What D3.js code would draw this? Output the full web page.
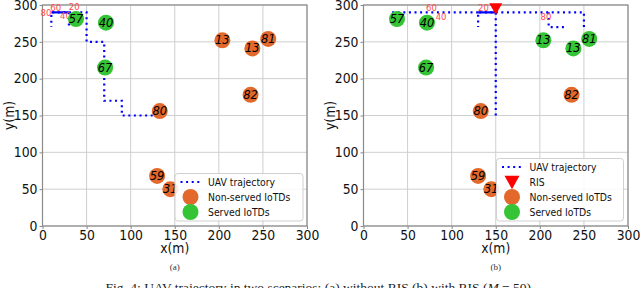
<!DOCTYPE html>
<html><head><meta charset="utf-8">
<script src="https://cdn.jsdelivr.net/npm/d3@7"></script>
<style>
html,body{margin:0;padding:0;background:#fff;}
svg{display:block;}
</style></head>
<body><svg id="c" width="640" height="288"></svg>
<script>
// ---- data ----
const deviceIds = ["57","40","67","80","13","13","81","82","59","31"];
const deviceX   = [38, 72, 71, 133, 204, 238, 256, 236, 130, 145];
const deviceY   = [281, 276, 215, 156, 252, 241, 254, 178, 68, 50];
const servedA   = [1, 1, 1, 0, 0, 0, 0, 0, 0, 0];
const servedB   = [1, 1, 1, 0, 1, 1, 1, 0, 0, 0];

// UAV trajectory (polylines, data coords)
const trajA = [
  [[125,150],[90,150],[90,170],[70,170],[70,250],[50,250],[50,290],[10,290],[10,270]],
  [[30,290],[30,270]]
];
const trajAHover = [[[10,290],[30,290]]];
const trajB = [
  [[150,150],[150,290],[130,290],[130,270]],
  [[130,290],[30,290]],
  [[150,290],[250,290],[250,270]],
  [[210,290],[210,270],[230,270]]
];
const trajBHover = [[[130,290],[150,290]]];

// time labels on trajectory
const timeTextA = ["80","60","20","40"];
const timeXA = [4, 15, 36, 26];
const timeYA = [289, 296, 297, 285];
const timeTextB = ["60","40","20","80"];
const timeXB = [77, 88, 136, 207];
const timeYB = [296, 284, 296, 284];

const risX = [150], risY = [295];

const xTicks = [0,50,100,150,200,250,300];
const yTicks = [0,50,100,150,200,250,300];

// ---- drawing ----
const svg = d3.select("#c");
const ORANGE = "#e2692b", GREEN = "#35c435", BLUE = "#0000ff";

function squeeze(sel, f){
  sel.each(function(){
    const w = this.getComputedTextLength();
    d3.select(this).attr("textLength", w*f).attr("lengthAdjust","spacingAndGlyphs");
  });
}

function panel(x0px, served, traj, hover, tT, tX, tY, withRIS, legendBox, sub){
  const x = d3.scaleLinear().domain([0,300]).range([x0px, x0px+264.5]);
  const y = d3.scaleLinear().domain([0,300]).range([226, 5]);
  const g = svg.append("g");

  // grid
  g.selectAll(".gx").data(xTicks).join("line")
    .attr("x1", d=>x(d)).attr("x2", d=>x(d)).attr("y1", y(0)).attr("y2", y(300))
    .attr("stroke", "#cfcfcf").attr("stroke-width", 1);
  g.selectAll(".gy").data(yTicks).join("line")
    .attr("y1", d=>y(d)).attr("y2", d=>y(d)).attr("x1", x(0)).attr("x2", x(300))
    .attr("stroke", "#cfcfcf").attr("stroke-width", 1);

  // axes
  const ax = g.append("g").attr("transform", `translate(0,${y(0)})`)
    .call(d3.axisBottom(x).tickValues(xTicks).tickSize(3).tickPadding(1.5));
  const ay = g.append("g").attr("transform", `translate(${x(0)},0)`)
    .call(d3.axisLeft(y).tickValues(yTicks).tickSize(3).tickPadding(2));
  [ax, ay].forEach(a => {
    a.select(".domain").remove();
    a.selectAll(".tick line").attr("stroke", "#888");
    a.selectAll("text").attr("font-family", "DejaVu Sans").attr("font-size", 13.2).attr("fill", "#111");
    squeeze(a.selectAll("text"), 0.94);
  });
  // frame
  g.append("rect").attr("x", x(0)).attr("y", y(300)).attr("width", x(300)-x(0)).attr("height", y(0)-y(300))
    .attr("fill", "none").attr("stroke", "#8a8a8a").attr("stroke-width", 1.2);

  // labels
  const xl = g.append("text").attr("x", (x(0)+x(300))/2).attr("y", 253).attr("text-anchor", "middle")
    .attr("font-family", "DejaVu Sans").attr("font-size", 13.2).attr("fill", "#111").text("x(m)");
  const yl = g.append("text").attr("transform", `translate(${x0px-29},${(y(0)+y(300))/2}) rotate(-90)`)
    .attr("text-anchor", "middle").attr("font-family", "DejaVu Sans").attr("font-size", 13.2).attr("fill", "#111").text("y(m)");
  squeeze(xl, 0.94); squeeze(yl, 0.94);

  // trajectory
  const line = d3.line().x(d=>x(d[0])).y(d=>y(d[1]));
  traj.forEach(p => g.append("path").attr("d", line(p)).attr("fill","none")
    .attr("stroke", BLUE).attr("stroke-width", 2.2).attr("stroke-dasharray", "2,3.6"));
  hover.forEach(p => g.append("path").attr("d", line(p)).attr("fill","none")
    .attr("stroke", BLUE).attr("stroke-width", 2.2));

  // time labels
  tT.forEach((t,i) => g.append("text").attr("x", x(tX[i])).attr("y", y(tY[i])+3)
    .attr("text-anchor","middle").attr("font-family","DejaVu Sans").attr("font-size", 8.5)
    .attr("fill","#ff4a4a").text(t));

  // devices
  deviceIds.forEach((id,i) => {
    g.append("circle").attr("cx", x(deviceX[i])).attr("cy", y(deviceY[i])).attr("r", 8)
      .attr("fill", served[i] ? GREEN : ORANGE);
    g.append("text").attr("x", x(deviceX[i])).attr("y", y(deviceY[i])+4)
      .attr("text-anchor","middle").attr("font-family","DejaVu Sans").attr("font-style","italic")
      .attr("font-size", 11.5).attr("fill","#000").text(id);
  });

  // RIS
  const tri = (cx, cy, s) => `M${cx-s},${cy-s*0.85} L${cx+s},${cy-s*0.85} L${cx},${cy+s*0.95} Z`;
  if (withRIS) {
    risX.forEach((v,i) => g.append("path").attr("d", tri(x(v), y(risY[i]), 6.5)).attr("fill", "#ff0000"));
  }

  // legend
  const [lx, ly, lw, lh] = legendBox;
  const L = g.append("g");
  L.append("rect").attr("x", lx).attr("y", ly).attr("width", lw).attr("height", lh).attr("rx", 3)
    .attr("fill", "rgba(255,255,255,0.85)").attr("stroke", "#d0d0d0");
  const items = withRIS ? ["UAV trajectory","RIS","Non-served IoTDs","Served IoTDs"]
                        : ["UAV trajectory","Non-served IoTDs","Served IoTDs"];
  const mx = lx + 15.5, tx = lx + 33;
  items.forEach((it, k) => {
    const cy = ly + 8.5 + k*15;
    if (it === "UAV trajectory") {
      L.append("line").attr("x1", mx-10).attr("x2", mx+9).attr("y1", cy).attr("y2", cy)
        .attr("stroke", BLUE).attr("stroke-width", 2.2).attr("stroke-dasharray", "2,3.6");
    } else if (it === "RIS") {
      L.append("path").attr("d", tri(mx, cy, 7.5)).attr("fill", "#ff0000");
    } else {
      L.append("circle").attr("cx", mx).attr("cy", cy).attr("r", 8)
        .attr("fill", it === "Served IoTDs" ? GREEN : ORANGE);
    }
    const t = L.append("text").attr("x", tx).attr("y", cy+4).attr("font-family","DejaVu Sans")
      .attr("font-size", 10.8).attr("fill","#111").text(it);
    squeeze(t, 0.86);
  });

  // sub caption
  g.append("text").attr("x", (x(0)+x(300))/2).attr("y", 270).attr("text-anchor","middle")
    .attr("font-family","Liberation Serif").attr("font-size", 9).attr("fill","#333").text(sub);
}

panel(42.5, servedA, trajA, trajAHover, timeTextA, timeXA, timeYA, false, [175, 173.5, 128, 47.5], "(a)");
panel(363.5, servedB, trajB, trajBHover, timeTextB, timeXB, timeYB, true, [496.5, 158.5, 127, 62.5], "(b)");

const cap = svg.append("text").attr("x", 320).attr("y", 292).attr("text-anchor","middle")
  .attr("font-family","Liberation Serif").attr("font-size", 13.5).attr("fill","#222");
cap.append("tspan").text("Fig. 4: UAV trajectory in two scenarios: (a) without RIS (b) with RIS (");
cap.append("tspan").attr("font-style","italic").text("M");
cap.append("tspan").text(" = 50).");
</script>
</body></html>
